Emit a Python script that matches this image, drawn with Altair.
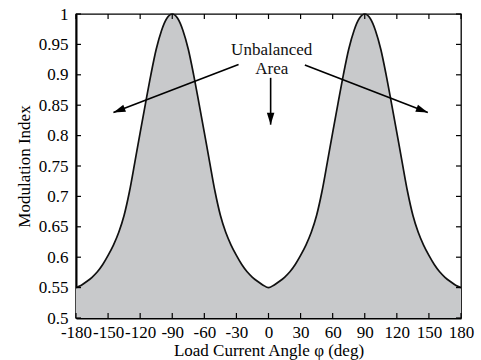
import altair as alt
import pandas as pd

# ---- data ----
phi = [-180, -175, -170, -165, -160, -155, -150, -145, -140, -135, -130, -125,
       -120, -115, -110, -105, -100, -95, -90, -85, -80, -75, -70, -65,
       -60, -55, -50, -45, -40, -35, -30, -25, -20, -15, -10, -5,
       0, 5, 10, 15, 20, 25, 30, 35, 40, 45, 50, 55,
       60, 65, 70, 75, 80, 85, 90, 95, 100, 105, 110, 115,
       120, 125, 130, 135, 140, 145, 150, 155, 160, 165, 170, 175, 180]
mod_index = [0.550, 0.554, 0.560, 0.567, 0.576, 0.588, 0.603, 0.620, 0.641, 0.669, 0.708, 0.756,
             0.805, 0.853, 0.900, 0.942, 0.973, 0.993, 1.000, 0.993, 0.973, 0.942, 0.900, 0.853,
             0.805, 0.756, 0.708, 0.669, 0.641, 0.620, 0.603, 0.588, 0.576, 0.567, 0.560, 0.554,
             0.550, 0.554, 0.560, 0.567, 0.576, 0.588, 0.603, 0.620, 0.641, 0.669, 0.708, 0.756,
             0.805, 0.853, 0.900, 0.942, 0.973, 0.993, 1.000, 0.993, 0.973, 0.942, 0.900, 0.853,
             0.805, 0.756, 0.708, 0.669, 0.641, 0.620, 0.603, 0.588, 0.576, 0.567, 0.560, 0.554, 0.550]

x_ticks = [-180, -150, -120, -90, -60, -30, 0, 30, 60, 90, 120, 150, 180]
y_ticks = [0.5, 0.55, 0.6, 0.65, 0.7, 0.75, 0.8, 0.85, 0.9, 0.95, 1.0]

note_text = ["Unbalanced", "Area"]
note_x = [3, 3]
note_y = [0.933, 0.902]

arrow_tail_x = [-28, 2, 34]
arrow_tail_y = [0.917, 0.895, 0.916]
arrow_tip_x = [-145, 2, 149]
arrow_tip_y = [0.838, 0.818, 0.838]
arrow_angle = [249, 180, 111]

FONT = "Liberation Serif"

curve = pd.DataFrame({"phi": phi, "m": mod_index})
xt = pd.DataFrame({"t": x_ticks})
yt = pd.DataFrame({"t": y_ticks})
notes = pd.DataFrame({"x": note_x, "y": note_y, "text": note_text})
arrows = pd.DataFrame({"x": arrow_tail_x, "y": arrow_tail_y,
                       "x2": arrow_tip_x, "y2": arrow_tip_y, "angle": arrow_angle})

xs = alt.Scale(domain=[-180, 180], nice=False, zero=False)
ys = alt.Scale(domain=[0.5, 1.0], nice=False, zero=False)

XT = "Load Current Angle φ (deg)"
YT = "Modulation Index"
x_axis = alt.Axis(values=x_ticks, labelExpr="'' + datum.value", grid=False, ticks=False,
                  domain=True, domainColor="black", domainWidth=2,
                  labelFont=FONT, labelFontSize=17, labelColor="black",
                  labelFlush=False, labelOverlap=False, labelPadding=6,
                  title=XT, titleFont=FONT,
                  titleFontSize=17, titleFontWeight="normal", titleColor="black",
                  titlePadding=2)
y_axis = alt.Axis(values=y_ticks, labelExpr="'' + datum.value", grid=False, ticks=False,
                  domain=True, domainColor="black", domainWidth=2,
                  labelFont=FONT, labelFontSize=17, labelColor="black",
                  labelFlush=False, labelOverlap=False, labelPadding=8,
                  title=YT, titleFont=FONT,
                  titleFontSize=17, titleFontWeight="normal", titleColor="black",
                  titlePadding=5)


def X(field):
    return alt.X(field, scale=xs, axis=x_axis, title=XT)


def Y(field):
    return alt.Y(field, scale=ys, axis=y_axis, title=YT)


area = alt.Chart(curve).mark_area(color="#c8c9cb", interpolate="monotone").encode(
    x=X("phi:Q"), y=Y("m:Q"), y2=alt.Y2Datum(0.5),
)
line = alt.Chart(curve).mark_line(color="#111111", strokeWidth=1.7, interpolate="monotone").encode(
    x=X("phi:Q"), y=Y("m:Q"),
)

tick_style = dict(color="black", strokeWidth=1.2)
xb = alt.Chart(xt).mark_rule(y2Offset=-5, **tick_style).encode(
    x=X("t:Q"), y=alt.YDatum(0.5, scale=ys, axis=y_axis, title=YT), y2=alt.Y2Datum(0.5))
xtop = alt.Chart(xt).mark_rule(y2Offset=5, **tick_style).encode(
    x=X("t:Q"), y=alt.YDatum(1.0, scale=ys, axis=y_axis, title=YT), y2=alt.Y2Datum(1.0))
yl = alt.Chart(yt).mark_rule(x2Offset=5, **tick_style).encode(
    y=Y("t:Q"), x=alt.XDatum(-180, scale=xs, axis=x_axis, title=XT), x2=alt.X2Datum(-180))
yr = alt.Chart(yt).mark_rule(x2Offset=-5, **tick_style).encode(
    y=Y("t:Q"), x=alt.XDatum(180, scale=xs, axis=x_axis, title=XT), x2=alt.X2Datum(180))

arrow_lines = alt.Chart(arrows).mark_rule(color="black", strokeWidth=1.6).encode(
    x=X("x:Q"), y=Y("y:Q"), x2="x2:Q", y2="y2:Q")
arrow_heads = alt.Chart(arrows).mark_point(
    shape="M0,0 L-0.75,2.4 L0.75,2.4 Z", filled=True, color="black",
    opacity=1, size=100, strokeWidth=0).encode(
    x=X("x2:Q"), y=Y("y2:Q"),
    angle=alt.Angle("angle:Q", scale=None))

text = alt.Chart(notes).mark_text(font=FONT, fontSize=17, color="#111111",
                                  align="center", baseline="alphabetic").encode(
    x=X("x:Q"), y=Y("y:Q"), text="text:N")

chart = alt.layer(area, line, xb, xtop, yl, yr, arrow_lines, arrow_heads, text).properties(
    width=385, height=304,
    padding={"left": 76, "top": 14, "right": 20, "bottom": 42},
    autosize=alt.AutoSizeParams(type="none"),
    background="white",
).configure_view(stroke="black", strokeWidth=1.3)

chart.save("out.html", embed_options={"renderer": "svg", "actions": False})
